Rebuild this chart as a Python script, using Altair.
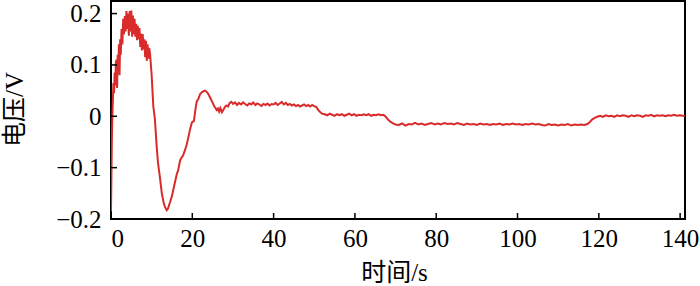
import altair as alt
import pandas as pd

# ---- data ----
time_s = [
    0.0, 0.1, 0.2, 0.3, 0.45, 0.6, 0.75, 0.9, 1.05, 1.2, 1.35, 1.5, 1.65, 1.8, 1.95,
    2.1, 2.25, 2.4, 2.6, 2.8, 3.0, 3.2, 3.4, 3.6, 3.8, 4.0, 4.2, 4.4, 4.6, 4.8,
    5.0, 5.2, 5.4, 5.6, 5.8, 6.0, 6.2, 6.4, 6.6, 6.8, 7.0, 7.2, 7.4, 7.6, 7.8,
    8.0, 8.2, 8.4, 8.6, 8.8, 9.0, 9.2, 9.4, 9.6, 10.0, 10.4, 10.8, 11.25, 11.55,
    12.05, 12.5, 13.0, 13.3, 13.7, 14.0, 14.5, 15.0, 15.25, 15.75, 16.2, 16.5,
    17.0, 17.4, 17.7, 18.2, 18.6, 19.0, 19.4, 19.9, 20.4, 20.8, 21.1, 21.5, 21.9,
    22.4, 22.8, 23.1, 23.5, 23.9, 24.4, 24.9, 25.3, 25.6, 26.0, 26.3, 26.6, 26.9,
    27.3, 27.7, 28.0, 28.4, 28.8, 29.2, 29.6,
    30.0, 30.5, 31.0, 31.5, 32.0, 32.5, 33.0, 33.5, 34.0, 34.5, 35.0, 35.5, 36.0,
    36.5, 37.0, 37.5, 38.0, 38.5, 39.0, 39.5, 40.0, 40.5, 41.0, 41.5, 42.0, 42.5,
    43.0, 43.5, 44.0, 44.5, 45.0, 45.5, 46.0, 46.5, 47.0, 47.5, 48.0, 48.5, 49.0,
    49.5, 50.0, 50.5, 51.0, 51.5, 52.0,
    52.6, 53.2, 53.8, 54.4, 55.0, 55.6, 56.2, 56.8, 57.4, 58.0, 58.6, 59.2, 59.8,
    60.4, 61.0, 61.6, 62.2, 62.8, 63.4, 64.0, 64.6, 65.2, 65.8, 66.4, 67.0, 67.6,
    68.2, 68.8, 69.4, 70.0,
    70.8, 71.6, 72.4, 73.2, 74.0, 74.8, 75.6, 76.4, 77.2, 78.0, 78.8, 79.6, 80.4,
    81.2, 82.0, 82.8, 83.6, 84.4, 85.2, 86.0, 86.8, 87.6, 88.4, 89.2, 90.0, 90.8,
    91.6, 92.4, 93.2, 94.0, 94.8, 95.6, 96.4, 97.2, 98.0, 98.8, 99.6, 100.4, 101.2,
    102.0, 102.8, 103.6, 104.4, 105.2, 106.0, 106.8, 107.6, 108.4, 109.2, 110.0,
    110.8, 111.6, 112.4, 113.2, 114.0, 114.8, 115.6, 116.4, 117.2, 117.8, 118.4,
    119.0, 119.6, 120.3, 121.0, 121.7, 122.4, 123.1, 123.8, 124.5, 125.2, 125.9,
    126.6, 127.3, 128.0, 128.7, 129.4, 130.1, 130.8, 131.5, 132.2, 132.9, 133.6,
    134.3, 135.0, 135.7, 136.4, 137.1, 137.8, 138.5, 139.2, 139.9, 140.6, 141.2,
]

voltage_v = [
    -0.185, -0.12, -0.05, -0.01, 0.03, 0.065, 0.045, 0.085, 0.06, 0.105, 0.11, 0.055, 0.12, 0.09, 0.14,
    0.08, 0.15, 0.12, 0.17, 0.14, 0.19, 0.16, 0.195, 0.165, 0.205, 0.17, 0.2, 0.157, 0.205, 0.165,
    0.206, 0.155, 0.196, 0.16, 0.19, 0.155, 0.18, 0.148, 0.176, 0.15, 0.172, 0.135, 0.161, 0.128, 0.16,
    0.13, 0.15, 0.115, 0.147, 0.108, 0.14, 0.112, 0.133, 0.122, 0.08, 0.02, -0.006, -0.06, -0.09,
    -0.12, -0.15, -0.17, -0.177, -0.183, -0.18, -0.168, -0.155, -0.146, -0.128, -0.112, -0.106,
    -0.086, -0.08, -0.077, -0.066, -0.056, -0.042, -0.027, -0.012, -0.009, 0.015, 0.029, 0.034, 0.043,
    0.047, 0.049, 0.05, 0.048, 0.044, 0.036, 0.028, 0.021, 0.017, 0.012, 0.015, 0.009, 0.016,
    0.008, 0.013, 0.018, 0.021, 0.019, 0.026, 0.028,
    0.024, 0.027, 0.022, 0.026, 0.023, 0.027, 0.024, 0.021, 0.025, 0.023, 0.027, 0.022, 0.025,
    0.023, 0.020, 0.024, 0.022, 0.025, 0.021, 0.024, 0.023, 0.026, 0.022, 0.025, 0.028, 0.023,
    0.026, 0.022, 0.024, 0.021, 0.023, 0.020, 0.022, 0.019, 0.021, 0.023, 0.020, 0.022, 0.019,
    0.022, 0.020, 0.018, 0.012, 0.008, 0.005,
    0.004, 0.002, 0.005, 0.003, 0.001, 0.004, 0.002, 0.004, 0.001, 0.003, 0.005, 0.002, 0.004,
    0.001, 0.003, 0.002, 0.004, 0.002, 0.004, 0.001, 0.003, 0.002, 0.004, 0.002, 0.003, -0.001,
    -0.007, -0.011, -0.014, -0.016,
    -0.017, -0.014, -0.018, -0.015, -0.016, -0.013, -0.016, -0.014, -0.017, -0.015, -0.013, -0.016, -0.014,
    -0.016, -0.013, -0.015, -0.014, -0.016, -0.013, -0.015, -0.017, -0.014, -0.016, -0.015, -0.017, -0.014,
    -0.016, -0.015, -0.017, -0.015, -0.016, -0.014, -0.017, -0.015, -0.016, -0.014, -0.016, -0.015, -0.017,
    -0.015, -0.016, -0.014, -0.016, -0.015, -0.017, -0.018, -0.015, -0.017, -0.016, -0.018,
    -0.016, -0.017, -0.015, -0.018, -0.016, -0.017, -0.016, -0.017, -0.015, -0.011, -0.006,
    -0.003, -0.001, 0.001, -0.001, 0.002, 0.000, 0.001, -0.001, 0.002, 0.000, 0.002,
    0.001, -0.001, 0.002, 0.000, 0.002, 0.001, -0.001, 0.002, 0.001, 0.003, 0.000,
    0.002, 0.001, 0.002, 0.000, 0.002, 0.001, 0.003, 0.001, 0.002, 0.001, 0.001,
]

x_tick_labels = [0, 20, 40, 60, 80, 100, 120, 140]
y_tick_labels = [-0.2, -0.1, 0, 0.1, 0.2]
x_inner_ticks = [20, 40, 60, 80, 100, 120, 140]
y_inner_ticks = [-0.1, 0, 0.1, 0.2]

x_title = "时间/s"
y_title = "电压/V"

df = pd.DataFrame({"t": time_s, "v": voltage_v})

FONT = "'Liberation Serif', 'Times New Roman', 'DejaVu Serif', 'Noto Sans CJK SC', serif"
PLOT_W, PLOT_H = 574, 218

xscale = alt.Scale(domain=[0, 141.2], nice=False, zero=False)
yscale = alt.Scale(domain=[-0.2, 0.2245], nice=False, zero=False)

xaxis = alt.Axis(values=x_tick_labels, title=x_title, format="d",
                 labelPadding=7, labelOverlap=False,
                 titleX=283, titleY=53, titleAlign="center",
                 titleBaseline="middle")
yaxis = alt.Axis(values=y_tick_labels, title=y_title,
                 labelExpr="datum.value == 0 ? '0' : format(datum.value, '.1f')",
                 labelPadding=10, labelOverlap=False,
                 titleX=-97, titleY=108, titleAngle=270,
                 titleAlign="center", titleBaseline="middle")

line = alt.Chart(df).mark_line(color="#d92b2b", strokeWidth=2, clip=True).encode(
    x=alt.X("t:Q", scale=xscale, axis=xaxis, title=x_title),
    y=alt.Y("v:Q", scale=yscale, axis=yaxis, title=y_title),
)

xt = alt.Chart(pd.DataFrame({"t": x_inner_ticks})).mark_rule(
    color="black", strokeWidth=1.5
).encode(
    x=alt.X("t:Q", scale=xscale, axis=xaxis, title=x_title),
    y=alt.value(PLOT_H),
    y2=alt.value(PLOT_H - 6),
)

yt = alt.Chart(pd.DataFrame({"v": y_inner_ticks})).mark_rule(
    color="black", strokeWidth=1.5
).encode(
    y=alt.Y("v:Q", scale=yscale, axis=yaxis, title=y_title),
    x=alt.value(0),
    x2=alt.value(6),
)

chart = (
    alt.layer(line, xt, yt)
    .properties(
        width=PLOT_W,
        height=PLOT_H,
        autosize="none",
        padding={"left": 111, "top": 1, "right": 15, "bottom": 67},
        background="white",
    )
    .configure_view(stroke="black", strokeWidth=2)
    .configure_axis(
        labelFont=FONT,
        labelFontSize=25,
        labelColor="black",
        titleFont=FONT,
        titleFontSize=25,
        titleFontWeight="normal",
        titleColor="black",
        domain=False,
        ticks=False,
        tickSize=0,
        grid=False,
    )
)

chart.save("out.html", embed_options={"renderer": "svg", "actions": False})
